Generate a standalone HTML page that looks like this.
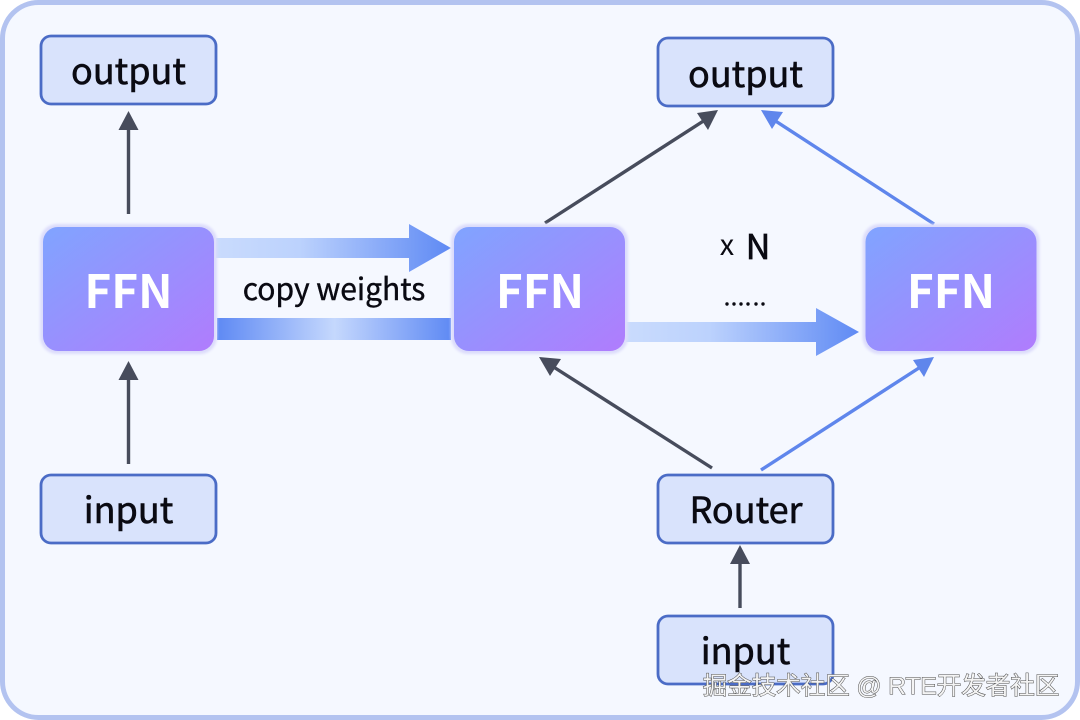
<!DOCTYPE html>
<html><head><meta charset="utf-8"><style>
html,body{margin:0;padding:0;background:#fff}
svg{display:block}
text{font-family:"Noto Sans CJK SC","Liberation Sans",sans-serif;text-anchor:middle}
</style></head><body>
<svg width="1080" height="720" viewBox="0 0 1080 720" xmlns="http://www.w3.org/2000/svg">
<defs>
<linearGradient id="ffn" x1="0" y1="0" x2="1" y2="1"><stop offset="0" stop-color="#80a4ff"/><stop offset="1" stop-color="#b07cfd"/></linearGradient>
<linearGradient id="a1" gradientUnits="userSpaceOnUse" x1="218" y1="0" x2="450" y2="0"><stop offset="0" stop-color="#c9dbfd"/><stop offset=".35" stop-color="#bcd2fd"/><stop offset="1" stop-color="#5f8af4"/></linearGradient>
<linearGradient id="a2" gradientUnits="userSpaceOnUse" x1="218" y1="0" x2="451" y2="0"><stop offset="0" stop-color="#5f8af4"/><stop offset=".5" stop-color="#c5d8fd"/><stop offset="1" stop-color="#5f8af4"/></linearGradient>
<linearGradient id="a3" gradientUnits="userSpaceOnUse" x1="628" y1="0" x2="860" y2="0"><stop offset="0" stop-color="#c9dbfd"/><stop offset=".35" stop-color="#bcd2fd"/><stop offset="1" stop-color="#5f8af4"/></linearGradient>
<filter id="soft" x="-5%" y="-5%" width="110%" height="110%"><feGaussianBlur stdDeviation="1.200"/></filter>
</defs>
<rect x="2.500" y="2.500" width="1075" height="715" rx="36" fill="#f5f8ff" stroke="#b3c3f0" stroke-width="5"/>

<!-- arrows -->
<g stroke="#474c5c" stroke-width="3.4" fill="#474c5c">
<line x1="128.500" y1="214" x2="128.500" y2="126"/><polygon stroke="none" points="128.500,111 118.500,130 138.500,130"/>
<line x1="128.500" y1="464" x2="128.500" y2="376"/><polygon stroke="none" points="128.500,361 118.500,380 138.500,380"/>
<line x1="740" y1="608" x2="740" y2="560"/><polygon stroke="none" points="740,545 730,564 750,564"/>
<line x1="545" y1="223" x2="705" y2="120"/><polygon stroke="none" points="718,110 697,113 708,130"/>
<line x1="712" y1="468" x2="552" y2="366"/><polygon stroke="none" points="539,357 550,376 561,359"/>
</g>
<g stroke="#5f86ec" stroke-width="3.4" fill="#5f86ec">
<line x1="934" y1="224" x2="774" y2="120"/><polygon stroke="none" points="761,110 772,129 783,112"/>
<line x1="761" y1="470" x2="922" y2="366"/><polygon stroke="none" points="934,357 913,360 924,377"/>
</g>

<!-- thick arrows -->
<polygon fill="url(#a1)" points="216,238 409,238 409,224 451,248 409,272 409,258 216,258"/>
<rect x="217" y="318" width="234" height="22" fill="url(#a2)"/>
<polygon fill="url(#a3)" points="626,322 816,322 816,308 859,332 816,356 816,342 626,342"/>

<!-- FFN -->
<g fill="#dcdcfb" filter="url(#soft)">
<rect x="40" y="224" width="177" height="130" rx="17"/>
<rect x="451" y="224" width="177" height="130" rx="17"/>
<rect x="862.500" y="224" width="177" height="130" rx="17"/>
</g>
<g fill="url(#ffn)">
<rect x="43" y="227" width="171" height="124" rx="15"/>
<rect x="454" y="227" width="171" height="124" rx="15"/>
<rect x="865.500" y="227" width="171" height="124" rx="15"/>
</g>
<g fill="#fff" font-size="46" font-weight="700">
<text x="128.500" y="308">FFN</text>
<text x="540" y="308">FFN</text>
<text x="951" y="308">FFN</text>
</g>

<!-- label boxes -->
<g fill="#d9e3fc" stroke="#4b6cc6" stroke-width="2.800">
<rect x="41" y="36" width="175" height="68" rx="10"/>
<rect x="658" y="38" width="175" height="68" rx="10"/>
<rect x="41" y="475" width="175" height="68" rx="10"/>
<rect x="658" y="475" width="175" height="68" rx="10"/>
<rect x="658" y="616" width="175" height="68" rx="10"/>
</g>
<g fill="#0a0a12" stroke="#0a0a12" stroke-width=".6" font-size="36">
<text x="128.500" y="84">output</text>
<text x="745.500" y="87">output</text>
<text x="128.500" y="523">input</text>
<text x="746" y="523">Router</text>
<text x="745.500" y="664">input</text>
</g>
<text x="334" y="300" font-size="30" fill="#0a0a12" stroke="#0a0a12" stroke-width=".4">copy weights</text>
<text x="727" y="255" font-size="29" fill="#0a0a12">x</text>
<text x="758" y="259" font-size="34" fill="#0a0a12" stroke="#0a0a12" stroke-width=".7">N</text>
<g fill="#0a0a12"><circle cx="727" cy="304" r="1.700"/><circle cx="734" cy="304" r="1.700"/><circle cx="741" cy="304" r="1.700"/><circle cx="748" cy="304" r="1.700"/><circle cx="756" cy="304" r="1.700"/><circle cx="763" cy="304" r="1.700"/></g>

<!-- watermark -->
<text x="881" y="694" font-size="24.500" fill="#f4f4f4" stroke="#4a4a4a" stroke-width="1" paint-order="stroke" style="font-family:'Liberation Sans','Noto Sans CJK SC',sans-serif">掘金技术社区 @ RTE开发者社区</text>
</svg>
</body></html>
